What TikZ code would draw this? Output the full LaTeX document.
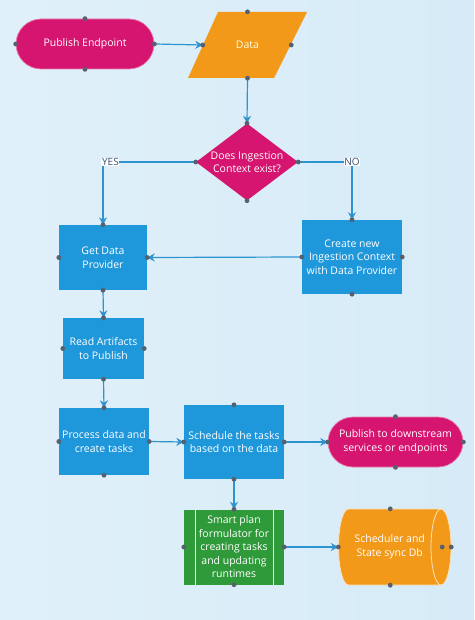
\documentclass[tikz,border=0pt]{standalone}
\usepackage{fontspec}
\setmainfont{Open Sans}
\usetikzlibrary{shapes.geometric,shapes.misc,arrows.meta,calc}
\definecolor{bgl}{HTML}{E0F0F9}
\definecolor{bgr}{HTML}{D6EBF7}
\definecolor{blueb}{HTML}{1F97DB}
\definecolor{magentab}{HTML}{D5156F}
\definecolor{orangeb}{HTML}{F2991A}
\definecolor{greenb}{HTML}{2F9A3A}
\definecolor{linec}{HTML}{2E94CF}
\definecolor{dotc}{HTML}{56606E}
\definecolor{lblc}{HTML}{3C4E6E}
\tikzset{
  base/.style={text=white, font=\fontsize{10.5}{13.5}\selectfont, align=center, inner sep=0pt},
  bbox/.style={base, rectangle, fill=blueb},
  term/.style={base, rounded rectangle, fill=magentab, draw=white!45!magentab, line width=0.7pt},
  conn/.style={draw=linec, line width=1.2pt, -{Stealth[length=7.5pt,width=8pt]}},
  lbl/.style={fill=white, text=lblc, font=\fontsize{10}{12}\selectfont, inner sep=0.6pt},
  dotmark/.style={fill=dotc},
  cylline/.style={draw=white!70!orangeb, line width=0.8pt},
}
\begin{document}
\begin{tikzpicture}[x=1pt,y=-1pt]
\useasboundingbox (0,0) rectangle (474,620);
\shade[left color=bgl, right color=bgr] (0,0) rectangle (474,620);

% nodes
\node[term, minimum width=138, minimum height=50] (pe) at (85,44) {Publish Endpoint};
\coordinate (dc) at (247.5,45);
\fill[orangeb] ($(dc)+(-29.5,-33)$) -- ($(dc)+(59.5,-33)$) -- ($(dc)+(26.5,33)$) -- ($(dc)+(-59.5,33)$) -- cycle;
\node[base, text=white!85!yellow, minimum width=119, minimum height=66] (data) at (dc) {Data};
\coordinate (dataW) at ($(data.west)+(15,0)$);
\coordinate (dataE) at ($(data.east)+(-16,0)$);
\node[diamond, fill=magentab, minimum width=102, minimum height=77, inner sep=0pt, aspect=1.33,
      label={[base]center:Does Ingestion\\Context exist?}] (dec) at (247,162) {};
\node[bbox, minimum width=88, minimum height=65] (get) at (103,257.5) {Get Data\\Provider};
\node[bbox, minimum width=100, minimum height=74] (cre) at (352,257) {Create new\\Ingestion Context\\with Data Provider};
\node[bbox, minimum width=81, minimum height=61] (read) at (103.5,348.5) {Read Artifacts\\to Publish};
\node[bbox, minimum width=90, minimum height=67] (proc) at (104,441.5) {Process data and\\create tasks};
\node[bbox, minimum width=100, minimum height=74] (sched) at (234,442) {Schedule the tasks\\based on the data};
\node[term, minimum width=135, minimum height=50] (pub) at (395.5,442) {Publish to downstream\\services or endpoints};
\node[base, rectangle, fill=greenb, minimum width=100, minimum height=75] (smart) at (234,547) {Smart plan\\formulator for\\creating tasks\\and updating\\runtimes};
\draw[white!85!greenb, line width=0.8pt] ($(smart.north west)+(12,0)$) -- ($(smart.south west)+(12,0)$);
\draw[white!85!greenb, line width=0.8pt] ($(smart.north east)+(-11,0)$) -- ($(smart.south east)+(-11,0)$);
% cylinder (database)
\coordinate (dbc) at (394.75,547);
\path[fill=orangeb, cylline] ($(dbc)+(-46.25,38)$) arc[start angle=90, end angle=270, x radius=10, y radius=38]
   -- ($(dbc)+(46.25,-38)$) arc[start angle=270, end angle=450, x radius=10, y radius=38] -- cycle;
\draw[cylline] ($(dbc)+(46.25,-38)$) arc[start angle=270, end angle=90, x radius=10, y radius=38];
\node[base, minimum width=112.5, minimum height=76,
      label={[base, xshift=-5pt]center:Scheduler and\\State sync Db}] (db) at (dbc) {};

% connectors
\draw[conn] (pe.east) -- (dataW);
\draw[conn] (data.south) -- (dec.north);
\draw[conn] (dec.west) -| node[lbl, pos=0.46] (yes) {YES} (get.north);
\draw[conn] (dec.east) -| node[lbl, pos=0.5] (no) {NO} (cre.north);
\draw[conn] (cre.west) -- (get.east);
\draw[conn] (get.south) -- (read.north);
\draw[conn] (read.south) -- (proc.north);
\draw[conn] (proc.east) -- (sched.west);
\draw[conn] (sched.east) -- (pub.west);
\draw[conn] (sched.south) -- (smart.north);
\draw[conn] (smart.east) -- (db.west);

% connection dots
\foreach \n in {pe,dec,get,cre,read,proc,sched,pub,smart}{
  \foreach \a in {north,south,east,west}{
    \fill[dotmark] (\n.\a) circle (2.4);
  }
}
\fill[dotmark] (data.north) circle (2.4);
\fill[dotmark] (data.south) circle (2.4);
\fill[dotmark] (dataW) circle (2.4);
\fill[dotmark] (dataE) circle (2.4);
\fill[dotmark] ($(db.north)+(-4.5,0)$) circle (2.4);
\fill[dotmark] ($(db.south)+(-4.5,0)$) circle (2.4);
\fill[dotmark] (db.west) circle (2.4);
\fill[dotmark] (db.east) circle (2.4);
\fill[dotmark] ($(db.east)+(-9,0)$) circle (2.4);
\end{tikzpicture}
\end{document}
